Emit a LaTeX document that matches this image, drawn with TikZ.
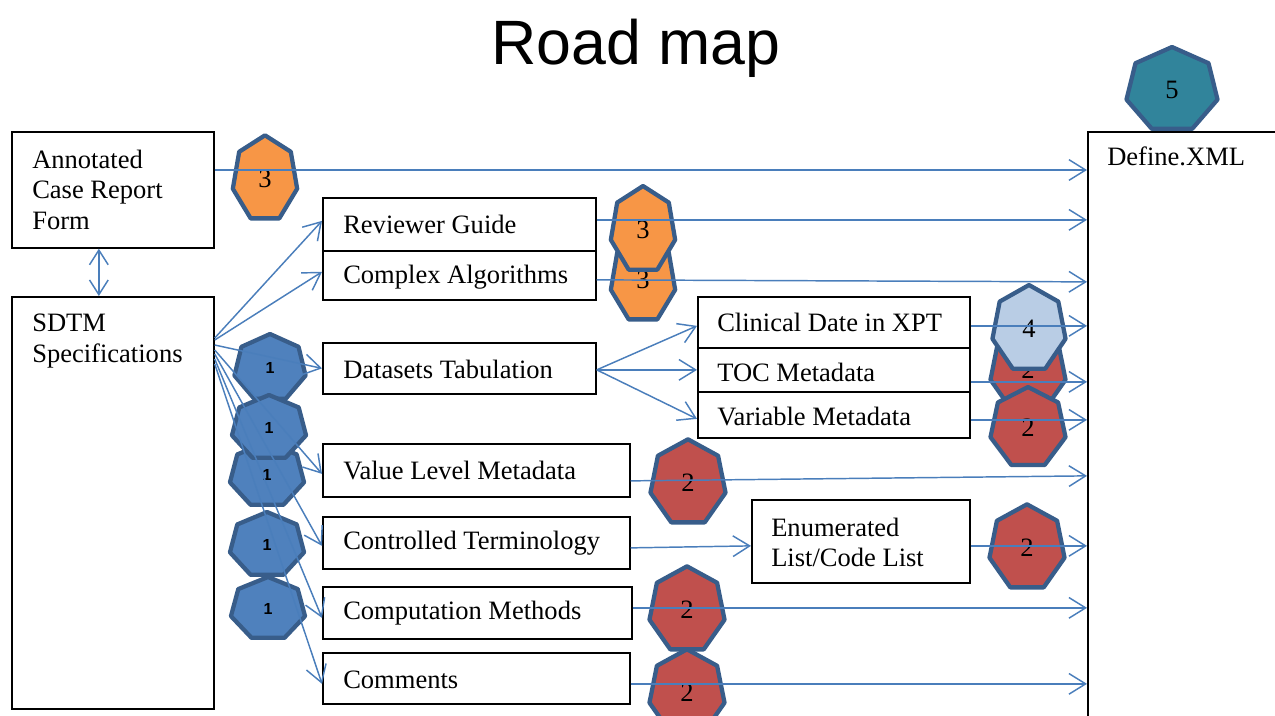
\documentclass[tikz,border=0pt]{standalone}
\usepackage{fontspec}
\setmainfont{Liberation Serif}
\setsansfont{Liberation Sans}
\usetikzlibrary{arrows.meta,calc}

\definecolor{linkblue}{HTML}{4A7EBB}
\definecolor{heptline}{HTML}{385D8A}
\definecolor{stepOrange}{HTML}{F79646}
\definecolor{stepRed}{HTML}{C0504D}
\definecolor{stepBlue}{HTML}{4F81BD}
\definecolor{stepPale}{HTML}{B9CDE5}
\definecolor{stepTeal}{HTML}{31849B}

\newcommand\boxfont{\fontsize{19.9}{23}\selectfont}

% heptagon badge: name, centre, x radius, y radius, fill, label style, label
\newcommand\heptagon[7]{%
  \begin{scope}[shift={#2}]
    \filldraw[hept, fill=#5]
      (-90:#3 and #4) -- (-38.571:#3 and #4) -- (12.857:#3 and #4) --
      (64.286:#3 and #4) -- (115.714:#3 and #4) -- (167.143:#3 and #4) --
      (218.571:#3 and #4) -- cycle;
    \node[#6] (#1) at (0,0) {#7};
  \end{scope}}

\begin{document}
\begin{tikzpicture}[x=0.75pt,y=-0.75pt,
  box/.style={draw=black, line width=1.3pt, inner sep=0pt, anchor=north west},
  txt/.style={inner sep=0pt, align=left, anchor=west, font=\boxfont},
  link/.style={draw=linkblue, line width=1.1pt, -{Straight Barb[length=12.5pt,width=15.5pt]}},
  both/.style={draw=linkblue, line width=1.1pt,
               {Straight Barb[length=11pt,width=14pt]}-{Straight Barb[length=11pt,width=14pt]}},
  hept/.style={draw=heptline, line width=3.2pt, line join=round},
  num/.style={inner sep=0pt, font=\boxfont},
  one/.style={inner sep=0pt, font=\sffamily\bfseries\fontsize{12}{14}\selectfont}]

\useasboundingbox (0,0) rectangle (1275,715);

\begin{scope}[overlay]
\clip (0,0) rectangle (1275,715);

% title
\node[font=\sffamily\fontsize{47}{56}\selectfont, anchor=base] (title) at (636,64) {Road map};

% document boxes and their captions
\node[box, minimum width=151.5pt, minimum height=87pt] (crf) at (11,131) {};
\node[txt] (crf-t) at ($(crf.west)+(21,0)$) {Annotated\\Case Report\\Form};
\node[box, minimum width=151.5pt, minimum height=309pt] (sdtm) at (11,296) {};
\node[txt, anchor=north west] (sdtm-t) at ($(sdtm.north west)+(21,18)$) {SDTM\\Specifications};

\node[box, minimum width=204.75pt, minimum height=39.75pt] (rg) at (322,197) {};
\node[txt] (rg-t) at ($(rg.west)+(21,0)$) {Reviewer Guide};
\node[box, minimum width=204.75pt, minimum height=36.75pt] (ca) at (322,250) {};
\node[txt] (ca-t) at ($(ca.west)+(21,1.5)$) {Complex Algorithms};
\node[box, minimum width=204.75pt, minimum height=38.25pt] (dt) at (322,342) {};
\node[txt] (dt-t) at ($(dt.west)+(21,1)$) {Datasets Tabulation};
\node[box, minimum width=230.25pt, minimum height=39.75pt] (vl) at (322,443) {};
\node[txt] (vl-t) at ($(vl.west)+(21,0)$) {Value Level Metadata};
\node[box, minimum width=230.25pt, minimum height=39pt] (ct) at (322,516) {};
\node[txt] (ct-t) at ($(ct.west)+(21,0)$) {Controlled Terminology};
\node[box, minimum width=231.75pt, minimum height=39pt] (cm) at (322,586) {};
\node[txt] (cm-t) at ($(cm.west)+(21,0)$) {Computation Methods};
\node[box, minimum width=230.25pt, minimum height=38.25pt] (co) at (322,652) {};
\node[txt] (co-t) at ($(co.west)+(21,1)$) {Comments};

\node[box, minimum width=204pt, minimum height=38.25pt] (cd) at (697,296) {};
\node[txt] (cd-t) at ($(cd.west)+(20,0)$) {Clinical Date in XPT};
\node[box, minimum width=204pt, minimum height=33pt] (toc) at (697,347) {};
\node[txt] (toc-t) at ($(toc.west)+(20,3)$) {TOC Metadata};
\node[box, minimum width=204pt, minimum height=34.5pt] (vm) at (697,391) {};
\node[txt] (vm-t) at ($(vm.west)+(20,2)$) {Variable Metadata};
\node[box, minimum width=163.5pt, minimum height=62.25pt] (el) at (751,499) {};
\node[txt] (el-t) at ($(el.west)+(20,1)$) {Enumerated\\List/Code List};

\node[box, minimum width=161.5pt, minimum height=480pt] (def) at (1087,131) {};
\node[txt, anchor=north west] (def-t) at ($(def.north west)+(20,16)$) {Define.XML};

% step badges
\heptagon{h3a}{(265,179)}{33}{43.7}{stepOrange}{num}{3}
\heptagon{h3c}{(643,280)}{33}{43.7}{stepOrange}{num}{3}
\heptagon{h3b}{(643,230)}{33}{44}{stepOrange}{num}{3}

\heptagon{h1a}{(270,368)}{36.5}{34}{stepBlue}{one}{1}
\heptagon{h1c}{(267,475)}{38}{33}{stepBlue}{one}{1}
\heptagon{h1b}{(269,428)}{38}{33}{stepBlue}{one}{1}
\heptagon{h1d}{(267,545)}{38}{33}{stepBlue}{one}{1}
\heptagon{h1e}{(268,609)}{38}{32}{stepBlue}{one}{1}

\heptagon{h2toc}{(1028,370)}{38.5}{43.7}{stepRed}{num}{2}
\heptagon{h4}{(1029,329)}{37.5}{44}{stepPale}{num}{4}
\heptagon{h2vm}{(1028,428)}{38.5}{41}{stepRed}{num}{2}
\heptagon{h2vl}{(688,483)}{38.5}{43.7}{stepRed}{num}{2}
\heptagon{h2el}{(1027,548)}{38.5}{43.7}{stepRed}{num}{2}
\heptagon{h2cm}{(687,610)}{38.5}{43.7}{stepRed}{num}{2}
\heptagon{h2co}{(687,693)}{38.5}{43.7}{stepRed}{num}{2}

\heptagon{h5}{(1172,90)}{46.7}{43}{stepTeal}{num}{5}

% annotated CRF <-> SDTM specifications
\draw[both] ($(crf.south)+(-14,0)$) -- ($(sdtm.north)+(-14,0)$);

% SDTM specifications to the documents
\draw[link] ($(sdtm.north east)+(0,42)$) -- ($(rg.west)+(0,-3.5)$);
\draw[link] ($(sdtm.north east)+(0,44)$) -- ($(ca.west)+(0,-3.5)$);
\draw[link] ($(sdtm.north east)+(0,49)$) -- (dt.west);
\draw[link] ($(sdtm.north east)+(0,54)$) -- ($(vl.west)+(0,3.5)$);
\draw[link] ($(sdtm.north east)+(0,58)$) -- ($(ct.west)+(0,3)$);
\draw[link] ($(sdtm.north east)+(0,63)$) -- ($(cm.west)+(0,5)$);
\draw[link] ($(sdtm.north east)+(0,68)$) -- ($(co.west)+(0,5.5)$);

% datasets tabulation splits into three parts
\coordinate (s-dt) at ($(dt.east)+(0,1.5)$);
\draw[link] (s-dt) -- ($(cd.west)+(0,3.5)$);
\draw[link] (s-dt) -- (toc.west);
\draw[link] (s-dt) -- ($(vm.west)+(0,4)$);

% controlled terminology to the code lists
\draw[link] ($(ct.east)+(0,5)$) -- ($(el.west)+(0,4.5)$);

% everything feeds define.xml
\coordinate (s-crf) at ($(crf.north east)+(0,39)$);
\coordinate (s-rg) at ($(rg.east)+(0,-4.5)$);
\coordinate (s-cd) at ($(cd.east)+(0,3.5)$);
\coordinate (s-toc) at ($(toc.east)+(0,12)$);
\coordinate (s-vm) at ($(vm.east)+(0,5)$);
\coordinate (s-el) at ($(el.east)+(0,4.5)$);
\coordinate (s-cm) at ($(cm.east)+(0,-5)$);
\coordinate (s-co) at ($(co.east)+(0,5.5)$);
\foreach \s in {s-crf,s-rg,s-cd,s-toc,s-vm,s-el,s-cm,s-co}
  \draw[link] (\s) -- (\s -| def.west);
\draw[link] ($(ca.east)+(0,4.5)$) -- ($(ca.east -| def.west)+(0,6.5)$);
\draw[link] ($(vl.east)+(0,10.5)$) -- ($(vl.east -| def.west)+(0,5.5)$);
\end{scope}
\end{tikzpicture}
\end{document}
